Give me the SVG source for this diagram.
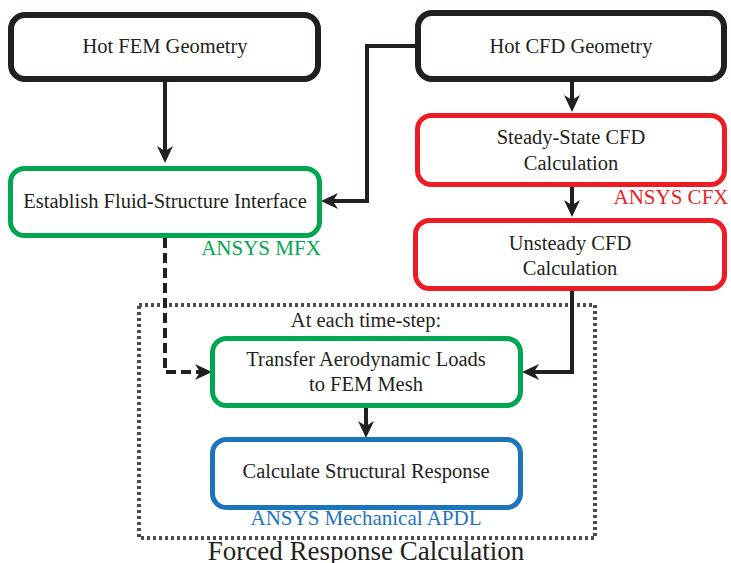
<svg xmlns="http://www.w3.org/2000/svg" width="731" height="563" viewBox="0 0 731 563">
<style>
.t{font-family:"Liberation Serif","Times New Roman",serif;font-size:20.5px;fill:#231F20;text-anchor:middle}
.lab{font-family:"Liberation Serif","Times New Roman",serif;font-size:21px;text-anchor:middle}
.box{fill:#fff;stroke-width:5}
.k{stroke:#231F20;stroke-width:6}
.g{stroke:#00A651}
.r{stroke:#ED1C24}
.b{stroke:#1C75BC}
.c{fill:none;stroke:#231F20;stroke-width:4}
</style>
<defs>
<marker id="ah" viewBox="-8 -10 20 20" refX="0" refY="0" markerWidth="20" markerHeight="20" markerUnits="userSpaceOnUse" orient="auto">
<path d="M10,0 L-7,-8 L-2,0 L-7,8 Z" fill="#231F20"/>
</marker>
</defs>
<rect id="frc" x="139" y="305" width="456" height="233" fill="none" stroke="#4D4D4F" stroke-width="4" stroke-dasharray="3 3"/>
<g id="connectors">
<path class="c" d="M165,82 V153" marker-end="url(#ah)"/>
<path class="c" d="M415,46 H367 V201 H331" stroke-width="3.5" marker-end="url(#ah)"/>
<path class="c" d="M572,79 V102" marker-end="url(#ah)"/>
<path class="c" d="M572,186 V207" marker-end="url(#ah)"/>
<path class="c" d="M572,290 V372 H532" marker-end="url(#ah)"/>
<path class="c" d="M165,238 V372 H202" stroke-dasharray="10 5" marker-end="url(#ah)"/>
<path class="c" d="M366,408 V428" marker-end="url(#ah)"/>
</g>
<g id="hotfem"><rect class="box k" x="11" y="15" width="307" height="64" rx="14"/><text class="t" x="165" y="53">Hot FEM Geometry</text></g>
<g id="hotcfd"><rect class="box k" x="418" y="13" width="306" height="66" rx="14"/><text class="t" x="571" y="53">Hot CFD Geometry</text></g>
<g id="fsi"><rect class="box g" x="10.5" y="168.5" width="309" height="67" rx="14"/><text class="t" x="165" y="208">Establish Fluid-Structure Interface</text></g>
<g id="steady"><rect class="box r" x="417.5" y="115.5" width="307" height="69" rx="14"/><text class="t" x="571" y="144">Steady-State CFD</text><text class="t" x="571" y="170">Calculation</text></g>
<g id="unsteady"><rect class="box r" x="415.5" y="220.5" width="309" height="68" rx="14"/><text class="t" x="570" y="250">Unsteady CFD</text><text class="t" x="570" y="275">Calculation</text></g>
<g id="transfer"><rect class="box g" x="212.5" y="338.5" width="308" height="67" rx="14"/><text class="t" x="366" y="366">Transfer Aerodynamic Loads</text><text class="t" x="366" y="391">to FEM Mesh</text></g>
<g id="struct"><rect class="box b" x="212.5" y="439.5" width="308" height="68" rx="14"/><text class="t" x="366" y="478">Calculate Structural Response</text></g>
<text class="lab" x="261" y="255" fill="#00A651">ANSYS MFX</text>
<text class="lab" x="671" y="204" fill="#ED1C24">ANSYS CFX</text>
<text class="t" x="366" y="327">At each time-step:</text>
<text class="lab" x="366" y="525" fill="#1C75BC">ANSYS Mechanical APDL</text>
<text class="t" x="366" y="560" style="font-size:27px">Forced Response Calculation</text>
</svg>
